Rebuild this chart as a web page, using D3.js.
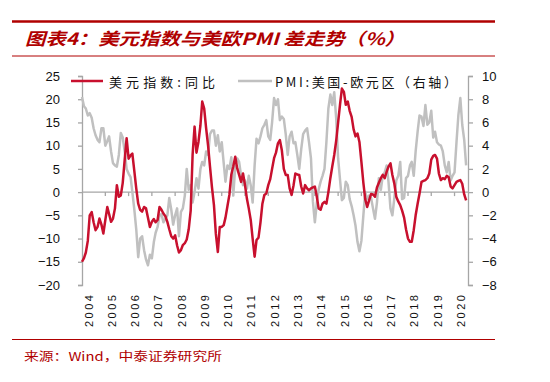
<!DOCTYPE html>
<html><head><meta charset="utf-8">
<script src="https://cdn.jsdelivr.net/npm/d3@7"></script>
<style>body{margin:0;background:#fff}svg{display:block}</style>
</head><body>
<svg id="c" width="550" height="382"></svg>
<script>
// ---- data ----
const startMonth = "2004-01";
const seriesNames = ["美元指数:同比", "PMI:美国-欧元区（右轴）"];
const dxyYoY = [
-15,-14.2,-13,-10.5,-5,-4.3,-6.5,-8.2,-7.5,-5.7,-7,-8.9,
-6,-3.2,-4.7,-6.4,-5.7,-3.5,1.5,-1,-0.7,2,7,11.6,
7.2,7.9,8.3,4.5,0.8,-2.5,-3.8,-4.2,-3.2,-3.5,-5.5,-7.5,
-6.4,-5.8,-6.5,-6,-3.2,-3.8,-4.6,-5.2,-6.4,-8,-9.5,-10,
-9.3,-11.5,-13,-12.5,-11.4,-11,-10.2,-8,-4,8,14.1,8.5,
10.8,14.4,19.5,18,13.8,10,5.5,1,-2.8,-9,-12.9,-7.5,
-7.5,-7.1,-5.5,-3,-0.6,3.8,5.5,7.6,5.1,3.7,2.2,4,
1.5,-1.5,-3.5,-6,-10,-13.9,-10.3,-9.8,-6.5,-2.5,-0.6,-0.3,
1.5,2.8,5,7.3,8.5,10.5,11.2,9,5,3.7,3.7,0.8,
-0.6,1.5,4,3.8,3.7,1.2,-0.3,1.5,0.8,0.4,0.8,1,
1.2,-1,-3.5,-3.8,-2.5,-2.1,-2.5,0,3,5.5,8,11,
15,19,22.3,21.6,18.8,19.5,17.5,16.2,13.5,12,12.6,10.8,
6.5,2,-1.5,-3.2,-1.8,-0.4,-0.5,-1,1,2,3,3.7,
3,4.4,5.5,6.2,3.7,1.8,-1,-2,-2.8,-4,-5.5,-8,
-10,-10.7,-10.7,-8.2,-5,-2.5,-0.3,2.2,2.4,2.6,3,4,
7,7.8,8,7.2,4,2.6,3,2.8,3.5,3.2,1.2,0.8,
1.5,2.2,2.4,2.6,1.8,-0.5,-1.8
];
const pmiDiff = [
8.2,7.4,7.2,6.6,6.8,6.4,5.5,4.9,4.5,4.3,5.5,5.5,
4.0,4.4,4.8,3.5,2.5,2.3,2.2,3.2,5.1,4.7,3.5,2.0,
1.6,1.3,0,-1.5,-3.2,-5.6,-4.0,-3.8,-5.0,-5.8,-6.3,-5.4,
-5.7,-4.3,-3.5,-3.0,-2.0,-1.9,-2.6,-2.3,-2.0,-0.5,-1.5,-2.8,
-2.0,-1.4,-3.8,-1.7,-1.4,-0.3,2.0,0.2,0.6,-0.9,0,1.2,
0.3,2.0,2.6,2.3,3.5,3.2,5.0,5.3,5.3,4.0,4.9,3.5,
4.3,2.5,0.9,2.3,2.0,3.0,-0.3,2.2,2.9,2.6,1.4,0.6,
1.0,0.3,1.4,0.6,-0.9,2.3,4.6,4.2,4.8,5.5,5.8,6.2,
4.8,4.5,6.0,8.1,7.5,8.0,6.2,6.5,6.3,5.0,3.2,4.8,
5.2,4.2,4.3,3.2,2.0,3.7,5.0,5.3,5.5,4.3,2.9,-0.8,
-2.6,-0.9,0.2,0.9,1.4,2.0,4.3,7.2,8.4,7.5,8.6,6.4,
2.9,1.0,-0.7,-0.5,0.9,0.6,-0.6,-1.2,-2.0,-2.9,-4.3,-5.1,
-4.2,-2.0,0,-0.6,-0.3,-0.5,-1.4,-2.3,-0.9,1.2,0.2,1.4,
1.7,2.3,0.9,-1.4,-2.0,-0.5,1.0,1.4,2.6,-0.6,-0.5,1.2,
1.4,2.3,2.6,1.4,3.5,5.2,6.6,6.5,5.7,7.5,5.8,6.0,
7.0,4.7,5.2,4.3,4.1,4.0,3.5,2.3,1.7,2.6,1.0,1.4,
1.7,4.3,6.6,8.1,5.8,4.5,2.3
];
const yearLabels = ["2004","2005","2006","2007","2008","2009","2010","2011","2012","2013","2014","2015","2016","2017","2018","2019","2020"];
const leftTicks = [-20,-15,-10,-5,0,5,10,15,20,25];
const rightTicks = [-8,-6,-4,-2,0,2,4,6,8,10];
const titleText = "图表4：美元指数与美欧PMI 差走势（%）";
const sourceText = "来源：Wind，中泰证券研究所";

// ---- build ----
const svg = d3.select("#c");
const RED = "#c8102e", GREY = "#c0c0c0", AX = "#a6a6a6", DARK = "#b00000";
const parse = d3.timeParse("%Y-%m");
const t0 = parse(startMonth);
const dates = dxyYoY.map((_, i) => d3.timeMonth.offset(t0, i));

const x = d3.scaleTime().domain([t0, new Date(2020, 7, 15)]).range([82, 469]);
const yL = d3.scaleLinear().domain([-20, 25]).range([285, 76]);
const yR = d3.scaleLinear().domain([-8, 10]).range([285, 76]);

// title & frame lines
svg.append("line").attr("x1",12).attr("x2",495).attr("y1",21.5).attr("y2",21.5).attr("stroke",DARK).attr("stroke-width",2.5);
svg.append("line").attr("x1",12).attr("x2",495).attr("y1",56).attr("y2",56).attr("stroke",DARK).attr("stroke-width",1);
svg.append("line").attr("x1",12).attr("x2",495).attr("y1",339.5).attr("y2",339.5).attr("stroke",DARK).attr("stroke-width",1);
svg.append("text").attr("x",25).attr("y",45).text(titleText)
  .attr("font-family","'Noto Sans CJK SC', sans-serif").attr("font-size",17).attr("font-weight","bold")
  .attr("font-style","italic").attr("fill",DARK).attr("textLength",380).attr("lengthAdjust","spacingAndGlyphs");
svg.append("text").attr("x",24).attr("y",361).text(sourceText)
  .attr("font-family","'Noto Sans CJK SC', sans-serif").attr("font-size",12)
  .attr("fill",DARK).attr("textLength",198).attr("lengthAdjust","spacingAndGlyphs");

// axes
const gL = svg.append("g").attr("transform","translate(82,0)")
  .call(d3.axisLeft(yL).tickValues(leftTicks).tickSize(4).tickPadding(18));
const gR = svg.append("g").attr("transform","translate(469,0)")
  .call(d3.axisRight(yR).tickValues(rightTicks).tickSize(4).tickPadding(9));
[gL, gR].forEach(g => {
  g.select(".domain").attr("stroke",AX).attr("stroke-width",1.3);
  g.selectAll(".tick line").attr("stroke",AX).attr("stroke-width",1.3);
  g.selectAll("text").attr("font-family","'Liberation Sans', Arial, sans-serif").attr("font-size",13).attr("fill","#111");
});
gL.select(".domain").attr("d","M-4,76.5H0.5V285.5H-4");
gR.select(".domain").attr("d","M4,76.5H-0.5V285.5H4");

// zero line with year ticks
const zeroY = yL(0);
svg.append("line").attr("x1",82).attr("x2",469).attr("y1",zeroY).attr("y2",zeroY).attr("stroke",AX).attr("stroke-width",1.3);
const years = yearLabels.map(s => parse(s + "-01"));
svg.append("g").selectAll("line").data(years.slice(1)).join("line")
  .attr("x1", d => x(d)).attr("x2", d => x(d)).attr("y1", zeroY).attr("y2", zeroY + 4)
  .attr("stroke", AX).attr("stroke-width", 1.3);
svg.append("g").selectAll("text").data(yearLabels).join("text")
  .attr("transform", (s, i) => `translate(${x(years[i]) + 6.5},295) rotate(-90)`)
  .attr("text-anchor","end").attr("dominant-baseline","central")
  .attr("font-family","'Liberation Sans', Arial, sans-serif").attr("font-size",11)
  .attr("fill","#111").attr("textLength",32).attr("lengthAdjust","spacing")
  .text(s => s);

// lines
const lineR = d3.line().x((d, i) => x(dates[i])).y(d => yR(d));
const lineL = d3.line().x((d, i) => x(dates[i])).y(d => yL(d));
svg.append("path").datum(pmiDiff).attr("d", lineR).attr("fill","none")
  .attr("stroke",GREY).attr("stroke-width",2.5).attr("stroke-linejoin","round");
svg.append("path").datum(dxyYoY).attr("d", lineL).attr("fill","none")
  .attr("stroke",RED).attr("stroke-width",2.5).attr("stroke-linejoin","round");

// legend
const lg = svg.append("g");
lg.append("line").attr("x1",71).attr("x2",103).attr("y1",81).attr("y2",81).attr("stroke",RED).attr("stroke-width",2.5);
lg.append("text").attr("x",109).attr("y",81).attr("dominant-baseline","central").text(seriesNames[0])
  .attr("font-family","'Noto Sans CJK SC', sans-serif").attr("font-size",13).attr("fill","#111")
  .attr("textLength",106).attr("lengthAdjust","spacing");
lg.append("line").attr("x1",238).attr("x2",272).attr("y1",81).attr("y2",81).attr("stroke",GREY).attr("stroke-width",2.5);
lg.append("text").attr("x",275).attr("y",81).attr("dominant-baseline","central").text(seriesNames[1])
  .attr("font-family","'Noto Sans CJK SC', sans-serif").attr("font-size",13).attr("fill","#111")
  .attr("textLength",182).attr("lengthAdjust","spacing");
</script>
</body></html>
